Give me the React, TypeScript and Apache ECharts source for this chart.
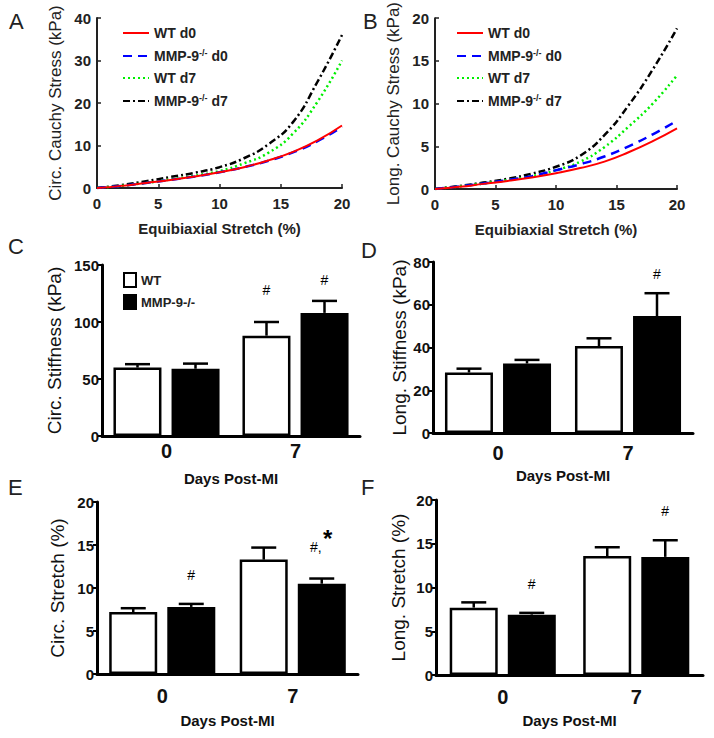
import React, { useEffect, useRef } from "react";
import * as echarts from "echarts";

const FONT = '"Liberation Sans", Arial, Helvetica, sans-serif';

// ---- Panels A & B: stress-stretch curves ----
const stretchPts = [0, 2, 4, 6, 8, 10, 12, 14, 16, 18, 20];
const circWTd0 = [0, 0.5, 1.2, 1.9, 2.7, 3.7, 4.9, 6.5, 8.5, 11.2, 14.7];
const circKOd0 = [0, 0.5, 1.2, 1.9, 2.7, 3.7, 4.9, 6.4, 8.4, 11.0, 14.4];
const circWTd7 = [0, 0.5, 1.2, 2.0, 2.9, 4.0, 5.8, 8.3, 12.8, 20.3, 30.0];
const circKOd7 = [0, 0.7, 1.6, 2.6, 3.6, 4.9, 7.0, 10.3, 15.5, 25.0, 36.0];
const longWTd0 = [0, 0.25, 0.6, 0.95, 1.35, 1.85, 2.45, 3.2, 4.3, 5.6, 7.1];
const longKOd0 = [0, 0.3, 0.65, 1.05, 1.5, 2.2, 2.9, 3.8, 5.0, 6.4, 8.0];
const longWTd7 = [0, 0.3, 0.65, 1.05, 1.5, 2.2, 3.2, 4.9, 7.3, 10.0, 13.3];
const longKOd7 = [0, 0.35, 0.75, 1.2, 1.8, 2.6, 3.9, 6.3, 9.8, 14.0, 18.8];
const curveNames = ["WT d0", "MMP-9-/- d0", "WT d7", "MMP-9-/- d7"];

// ---- Panels C-F: bar charts ----
const dayCats = ["0", "7"];
const groupNames = ["WT", "MMP-9-/-"];

const circStiffWT = [60, 88];
const circStiffWTErr = [3, 12];
const circStiffKO = [59, 108];
const circStiffKOErr = [4.5, 10.5];

const longStiffWT = [28.3, 40.7];
const longStiffWTErr = [1.8, 3.6];
const longStiffKO = [32.5, 54.7];
const longStiffKOErr = [1.7, 10.7];

const circStretchWT = [7.2, 13.3];
const circStretchWTErr = [0.45, 1.4];
const circStretchKO = [7.8, 10.5];
const circStretchKOErr = [0.35, 0.6];

const longStretchWT = [7.7, 13.6];
const longStretchWTErr = [0.6, 1.0];
const longStretchKO = [6.9, 13.5];
const longStretchKOErr = [0.2, 1.9];

// significance marks: [category, group, value, text]
const cMarks: [number, number, number, string][] = [
  [1, 0, 128, "#"],
  [1, 1, 137, "#"],
];
const dMarks: [number, number, number, string][] = [[1, 1, 74.5, "#"]];
const eMarks: [number, number, number, string][] = [
  [0, 1, 11.5, "#"],
  [1, 1, 14.8, "#,"],
  [1, 1, 15.8, "*"],
];
const fMarks: [number, number, number, string][] = [
  [0, 1, 10.4, "#"],
  [1, 1, 18.7, "#"],
];

const BAR_W = 48;
const HALF_SEP = 29;

function errRender(offset: number) {
  return (params: any, api: any) => {
    const c = api.value(0);
    const m = api.value(1);
    const e = api.value(2);
    const base = api.coord([c, m]);
    const top = api.coord([c, m + e]);
    const x = base[0] + offset;
    const ls = { stroke: "#000", lineWidth: 2.5 };
    return {
      type: "group",
      children: [
        { type: "line", shape: { x1: x, y1: base[1], x2: x, y2: top[1] }, style: ls },
        { type: "line", shape: { x1: x - 12.5, y1: top[1], x2: x + 12.5, y2: top[1] }, style: ls },
      ],
    };
  };
}

function markRender(marks: [number, number, number, string][]) {
  return (params: any, api: any) => {
    const mk = marks[params.dataIndex];
    const p = api.coord([mk[0], mk[2]]);
    const text = mk[3];
    let dx = mk[1] === 0 ? -HALF_SEP : HALF_SEP;
    if (text === "#,") dx -= 6;
    if (text === "*") dx += 6;
    const star = text === "*";
    return {
      type: "text",
      x: p[0] + dx,
      y: p[1],
      style: {
        text,
        fill: "#000",
        font: `${star ? "bold 24px" : "14px"} ${FONT}`,
        align: "center",
        verticalAlign: "middle",
      },
    };
  };
}

export default function App() {
  const ref = useRef<HTMLDivElement>(null);
  useEffect(() => {
    if (!ref.current) return;
    const chart = echarts.init(ref.current, undefined, { renderer: "svg" });

    const grids = [
      { left: 97, top: 18, width: 245, height: 170 },
      { left: 435, top: 18, width: 242, height: 171 },
      { left: 102, top: 265, width: 258, height: 171 },
      { left: 433, top: 262, width: 260, height: 171 },
      { left: 97, top: 502, width: 261, height: 172 },
      { left: 436, top: 500, width: 267, height: 175 },
    ];

    const lineAxisStyle = { lineStyle: { color: "#222", width: 2 } };
    const tickLbl = { fontSize: 15, fontWeight: "bold", color: "#222", fontFamily: FONT };
    const yNameStyle = { fontSize: 17, color: "#222", fontFamily: FONT };

    const curveX = (idx: number) => ({
      type: "value",
      gridIndex: idx,
      min: 0,
      max: 20,
      interval: 5,
      axisLine: { show: true, ...lineAxisStyle },
      axisTick: { show: true, inside: true, length: 4, lineStyle: { color: "#222", width: 1.5 } },
      axisLabel: { ...tickLbl, margin: 8 },
      splitLine: { show: false },
      name: "Equibiaxial Stretch (%)",
      nameLocation: "middle",
      nameGap: 33,
      nameTextStyle: { fontSize: 15, fontWeight: "bold", color: "#222", fontFamily: FONT },
    });
    const curveY = (idx: number, max: number, interval: number, name: string) => ({
      type: "value",
      gridIndex: idx,
      min: 0,
      max,
      interval,
      axisLine: { show: true, ...lineAxisStyle },
      axisTick: { show: true, inside: true, length: 4, lineStyle: { color: "#222", width: 1.5 } },
      axisLabel: { ...tickLbl, margin: 6 },
      splitLine: { show: false },
      name,
      nameLocation: "middle",
      nameGap: 33,
      nameTextStyle: yNameStyle,
    });

    const barX = (idx: number, lblMargin: number, nameGap: number) => ({
      type: "category",
      gridIndex: idx,
      data: dayCats,
      axisLine: { show: true, lineStyle: { color: "#000", width: 3 } },
      axisTick: { show: false },
      axisLabel: { fontSize: 20, fontWeight: "bold", color: "#111", fontFamily: FONT, margin: lblMargin },
      name: "Days Post-MI",
      nameLocation: "middle",
      nameGap,
      nameTextStyle: { fontSize: 15, fontWeight: "bold", color: "#111", fontFamily: FONT },
    });
    const barY = (idx: number, max: number, interval: number, name: string, nameGap: number) => ({
      type: "value",
      gridIndex: idx,
      min: 0,
      max,
      interval,
      axisLine: { show: true, lineStyle: { color: "#000", width: 3 } },
      axisTick: { show: true, inside: false, length: 4, lineStyle: { color: "#000", width: 2 } },
      axisLabel: { fontSize: 15, fontWeight: "bold", color: "#111", fontFamily: FONT, margin: 3 },
      splitLine: { show: false },
      name,
      nameLocation: "middle",
      nameGap,
      nameTextStyle: { fontSize: 19, color: "#111", fontFamily: FONT },
    });

    const mk = (xs: number[], ys: number[]) => xs.map((x, i) => [x, ys[i]]);
    const curveStyles = [
      { color: "#ff0000", type: "solid", width: 2 },
      { color: "#0000ff", type: [9, 6], width: 2.5 },
      { color: "#00ee00", type: [2, 3], width: 2.5 },
      { color: "#000000", type: [7, 3, 2, 3], width: 2.5 },
    ];
    const circSets = [circWTd0, circKOd0, circWTd7, circKOd7];
    const longSets = [longWTd0, longKOd0, longWTd7, longKOd7];

    const series: any[] = [];
    [circSets, longSets].forEach((sets, g) => {
      sets.forEach((vals, k) => {
        series.push({
          type: "line",
          name: curveNames[k],
          xAxisIndex: g,
          yAxisIndex: g,
          data: mk(stretchPts, vals),
          smooth: true,
          symbol: "none",
          lineStyle: curveStyles[k],
          itemStyle: { color: curveStyles[k].color },
          z: 4 - k,
        });
      });
    });

    const barPanels = [
      { wt: circStiffWT, wtE: circStiffWTErr, ko: circStiffKO, koE: circStiffKOErr, marks: cMarks },
      { wt: longStiffWT, wtE: longStiffWTErr, ko: longStiffKO, koE: longStiffKOErr, marks: dMarks },
      { wt: circStretchWT, wtE: circStretchWTErr, ko: circStretchKO, koE: circStretchKOErr, marks: eMarks },
      { wt: longStretchWT, wtE: longStretchWTErr, ko: longStretchKO, koE: longStretchKOErr, marks: fMarks },
    ];
    barPanels.forEach((bp, j) => {
      const idx = j + 2;
      series.push({
        type: "bar",
        name: groupNames[0],
        xAxisIndex: idx,
        yAxisIndex: idx,
        data: bp.wt,
        barWidth: BAR_W,
        barGap: "21%",
        itemStyle: { color: "#ffffff", borderColor: "#000", borderWidth: 2.5 },
      });
      series.push({
        type: "bar",
        name: groupNames[1],
        xAxisIndex: idx,
        yAxisIndex: idx,
        data: bp.ko,
        barWidth: BAR_W,
        barGap: "21%",
        itemStyle: { color: "#000000", borderColor: "#000", borderWidth: 2.5 },
      });
      series.push({
        type: "custom",
        xAxisIndex: idx,
        yAxisIndex: idx,
        data: bp.wt.map((m, i) => [i, m, bp.wtE[i]]),
        renderItem: errRender(-HALF_SEP),
        z: 5,
      });
      series.push({
        type: "custom",
        xAxisIndex: idx,
        yAxisIndex: idx,
        data: bp.ko.map((m, i) => [i, m, bp.koE[i]]),
        renderItem: errRender(HALF_SEP),
        z: 5,
      });
      series.push({
        type: "custom",
        xAxisIndex: idx,
        yAxisIndex: idx,
        data: bp.marks.map((m) => [m[0], m[2]]),
        renderItem: markRender(bp.marks),
        z: 6,
      });
    });

    const legendFormatter = (name: string) => {
      if (name.indexOf("MMP-9-/-") === 0) {
        return `{b|MMP-9}{s|-/-}{b|${name.slice(8)}}`;
      }
      return `{b|${name}}`;
    };
    const legendRich = {
      b: { fontSize: 14, fontWeight: "bold", color: "#222", fontFamily: FONT, lineHeight: 16 },
      s: { fontSize: 9, fontWeight: "bold", color: "#222", fontFamily: FONT, verticalAlign: "top", lineHeight: 10 },
    };
    const curveLegend = (left: number) => ({
      orient: "vertical",
      left,
      top: 21,
      itemWidth: 26,
      itemHeight: 14,
      itemGap: 8,
      data: curveNames,
      formatter: legendFormatter,
      textStyle: { rich: legendRich },
      itemStyle: { opacity: 0 },
      selectedMode: false,
    });

    const letter = (t: string, x: number, y: number) => ({
      type: "text",
      x,
      y,
      style: { text: t, font: `22px ${FONT}`, fill: "#222", verticalAlign: "middle" },
    });

    const option: any = {
      animation: false,
      textStyle: { fontFamily: FONT },
      grid: grids,
      xAxis: [curveX(0), curveX(1), barX(2, 5, 35), barX(3, 10, 35), barX(4, 12, 39), barX(5, 12, 38)],
      yAxis: [
        curveY(0, 40, 10, "Circ. Cauchy Stress (kPa)"),
        curveY(1, 20, 5, "Long. Cauchy Stress (kPa)"),
        barY(2, 150, 50, "Circ. Stiffness (kPa)", 38),
        barY(3, 80, 20, "Long. Stiffness (kPa)", 24),
        barY(4, 20, 5, "Circ. Stretch (%)", 30),
        barY(5, 20, 5, "Long. Stretch (%)", 28),
      ],
      legend: [
        curveLegend(117),
        curveLegend(451),
        {
          orient: "vertical",
          left: 118,
          top: 267,
          itemWidth: 12,
          itemHeight: 14,
          itemGap: 6,
          selectedMode: false,
          data: [
            { name: groupNames[0], icon: "rect", itemStyle: { color: "#fff", borderColor: "#000", borderWidth: 2 } },
            { name: groupNames[1], icon: "rect", itemStyle: { color: "#000", borderColor: "#000", borderWidth: 2 } },
          ],
          textStyle: { fontSize: 13, fontWeight: "bold", color: "#222", fontFamily: FONT },
        },
      ],
      series,
      graphic: [
        letter("A", 9, 21),
        letter("B", 363, 21),
        letter("C", 8, 246),
        letter("D", 361, 250),
        letter("E", 8, 487),
        letter("F", 361, 487),
      ],
    };
    chart.setOption(option);
    return () => chart.dispose();
  }, []);
  return (
    <div
      ref={ref}
      style={{ position: "absolute", left: 0, top: 0, width: 714, height: 738, background: "#fff" }}
    />
  );
}
